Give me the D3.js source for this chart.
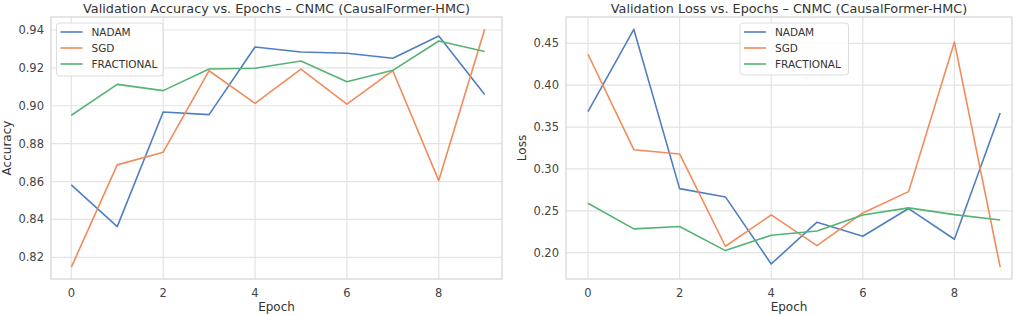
<!DOCTYPE html>
<html><head><meta charset="utf-8">
<script src="https://cdn.jsdelivr.net/npm/d3@7"></script>
<style>
html,body{margin:0;padding:0;background:#fff;}
svg{display:block;font-family:"DejaVu Sans",sans-serif;}
</style></head>
<body>
<svg id="chart" width="1024" height="316"></svg>
<script>
const epochs = [0,1,2,3,4,5,6,7,8,9];
const seriesNames = ["NADAM","SGD","FRACTIONAL"];
const colors = ["#4f7fc0","#f28b5b","#55b374"];

const accNadam = [0.8582,0.8362,0.8967,0.8953,0.9310,0.9284,0.9277,0.9251,0.9368,0.9059];
const accSgd   = [0.8148,0.8688,0.8755,0.9185,0.9013,0.9194,0.9009,0.9185,0.8605,0.9404];
const accFrac  = [0.8950,0.9113,0.9080,0.9194,0.9198,0.9236,0.9127,0.9187,0.9342,0.9286];

const lossNadam = [0.3684,0.4667,0.2765,0.2666,0.1866,0.2364,0.2197,0.2527,0.2161,0.3668];
const lossSgd   = [0.4369,0.3230,0.3179,0.2077,0.2451,0.2085,0.2475,0.2729,0.4516,0.1827];
const lossFrac  = [0.2591,0.2284,0.2312,0.2025,0.2209,0.2260,0.2451,0.2535,0.2455,0.2391];

const xTicks = [0,2,4,6,8];
const accTicks = [0.82,0.84,0.86,0.88,0.90,0.92,0.94];
const lossTicks = [0.20,0.25,0.30,0.35,0.40,0.45];

const svg = d3.select("#chart");

function panel(cfg){
  const g = svg.append("g");
  const x = d3.scaleLinear().domain([0,9]).range(cfg.xr);
  const y = d3.scaleLinear().domain(cfg.yd).range(cfg.yr);
  const [L,R,T,B] = cfg.frame;
  g.selectAll(".gx").data(xTicks).join("line")
    .attr("x1",d=>x(d)).attr("x2",d=>x(d)).attr("y1",T).attr("y2",B)
    .attr("stroke","#e3e3e3").attr("stroke-width",1.2);
  g.selectAll(".gy").data(cfg.yTicks).join("line")
    .attr("x1",L).attr("x2",R).attr("y1",d=>y(d)).attr("y2",d=>y(d))
    .attr("stroke","#e3e3e3").attr("stroke-width",1.2);
  g.append("rect").attr("x",L).attr("y",T).attr("width",R-L).attr("height",B-T)
    .attr("fill","none").attr("stroke","#d4d4d4").attr("stroke-width",1.2);
  g.selectAll(".tx").data(xTicks).join("text")
    .attr("x",d=>x(d)).attr("y",B+18).attr("text-anchor","middle")
    .attr("font-size",11.5).attr("fill","#444").text(d=>d);
  g.selectAll(".ty").data(cfg.yTicks).join("text")
    .attr("x",L-7).attr("y",d=>y(d)+4).attr("text-anchor","end")
    .attr("font-size",11.5).attr("fill","#444").text(d=>d3.format(cfg.fmt)(d));
  g.append("text").attr("x",(L+R)/2).attr("y",311).attr("text-anchor","middle")
    .attr("font-size",12).attr("fill","#333").text("Epoch");
  g.append("text").attr("transform",`translate(${cfg.ylx},${(T+B)/2}) rotate(-90)`)
    .attr("text-anchor","middle").attr("font-size",12).attr("fill","#333").text(cfg.ylabel);
  g.append("text").attr("x",(L+R)/2).attr("y",13).attr("text-anchor","middle")
    .attr("font-size",12.8).attr("fill","#333").text(cfg.title);
  const line = d3.line().x((d,i)=>x(epochs[i])).y(d=>y(d));
  cfg.series.forEach((s,i)=>{
    g.append("path").attr("d",line(s)).attr("fill","none")
      .attr("stroke",colors[i]).attr("stroke-width",1.6).attr("stroke-linejoin","round");
  });
  const [lx,ly,lw,lh] = cfg.legend;
  const lg = g.append("g");
  lg.append("rect").attr("x",lx).attr("y",ly).attr("width",lw).attr("height",lh)
    .attr("rx",3).attr("fill","rgba(255,255,255,0.85)").attr("stroke","#dcdcdc");
  seriesNames.forEach((n,i)=>{
    const yy = ly+9+i*16;
    lg.append("line").attr("x1",lx+4).attr("x2",lx+26).attr("y1",yy).attr("y2",yy)
      .attr("stroke",colors[i]).attr("stroke-width",1.6);
    lg.append("text").attr("x",lx+35).attr("y",yy+4).attr("font-size",10.5)
      .attr("fill","#333").text(n);
  });
}

panel({
  xr:[71.3,484.7], yd:[0.82,0.94], yr:[257.3,30], frame:[51,502,17,279],
  yTicks:accTicks, fmt:".2f", ylabel:"Accuracy", ylx:11,
  title:"Validation Accuracy vs. Epochs \u2013 CNMC (CausalFormer-HMC)",
  series:[accNadam,accSgd,accFrac], legend:[56.5,23,106.5,53]
});
panel({
  xr:[588,1000.2], yd:[0.20,0.45], yr:[252.7,43.3], frame:[566,1012,17,279],
  yTicks:lossTicks, fmt:".2f", ylabel:"Loss", ylx:526,
  title:"Validation Loss vs. Epochs \u2013 CNMC (CausalFormer-HMC)",
  series:[lossNadam,lossSgd,lossFrac], legend:[740,23,108.5,52]
});
</script>
</body></html>
